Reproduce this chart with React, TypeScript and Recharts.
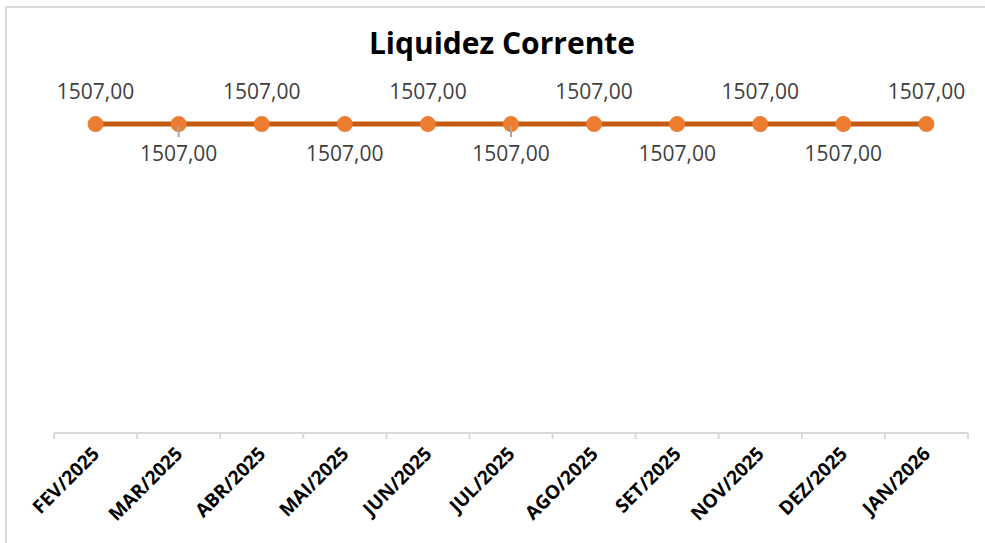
import { LineChart, Line, XAxis, YAxis, LabelList } from "recharts";

const meses = [
  "FEV/2025",
  "MAR/2025",
  "ABR/2025",
  "MAI/2025",
  "JUN/2025",
  "JUL/2025",
  "AGO/2025",
  "SET/2025",
  "NOV/2025",
  "DEZ/2025",
  "JAN/2026",
];
const liquidez = [1507, 1507, 1507, 1507, 1507, 1507, 1507, 1507, 1507, 1507, 1507];
// labels that Excel drew with a leader line
const leaderIdx = [1, 5];

const data = meses.map((mes, i) => ({ mes, valor: liquidez[i] }));

const W = 985;
const H = 543;
const M = { top: 105, right: 17, left: 54, bottom: 0 };
const BAND = (W - M.left - M.right) / meses.length;

const fmt = (v: number) => v.toFixed(2).replace(".", ",");

// eslint-disable-next-line @typescript-eslint/no-explicit-any
function MesTick({ x, y, payload, index }: any) {
  const half = BAND / 2;
  const tx = x + 5;
  const ty = y + 22;
  return (
    <g>
      <line x1={x - half} x2={x - half} y1={y} y2={y + 6} stroke="#d9d9d9" strokeWidth={2} />
      {index === meses.length - 1 && (
        <line x1={x + half} x2={x + half} y1={y} y2={y + 6} stroke="#d9d9d9" strokeWidth={2} />
      )}
      <text
        x={tx}
        y={ty}
        transform={`rotate(-45 ${tx} ${ty})`}
        textAnchor="end"
        fontFamily="'Open Sans', sans-serif"
        fontWeight={700}
        fontSize={19}
        fill="#000"
      >
        {payload.value}
      </text>
    </g>
  );
}

// eslint-disable-next-line @typescript-eslint/no-explicit-any
function ValorLabel({ x, y, value, index }: any) {
  const acima = index % 2 === 0;
  return (
    <g>
      {leaderIdx.includes(index) && (
        <line x1={x} x2={x} y1={y + 2} y2={y + 13} stroke="#a6a6a6" strokeWidth={2} />
      )}
      <text
        x={x}
        y={acima ? y - 25 : y + 37}
        textAnchor="middle"
        fontFamily="'Open Sans', sans-serif"
        fontSize={21}
        fill="#404040"
      >
        {fmt(value)}
      </text>
    </g>
  );
}

export default function App() {
  return (
    <div style={{ position: "absolute", left: 0, top: 0, width: W, height: H, background: "#fff" }}>
      <div
        style={{
          position: "absolute",
          left: 5,
          top: 6,
          right: 0,
          bottom: 0,
          borderTop: "2px solid #d9d9d9",
          borderLeft: "2px solid #d9d9d9",
        }}
      />
      <div
        style={{
          position: "absolute",
          left: 0,
          width: 1004,
          top: 22,
          textAlign: "center",
          fontFamily: "'Open Sans', sans-serif",
          fontWeight: 700,
          fontSize: 30,
          color: "#000",
        }}
      >
        Liquidez Corrente
      </div>
      <div style={{ position: "absolute", left: 0, top: 0 }}>
        <LineChart width={W} height={H} data={data} margin={M}>
          <XAxis
            dataKey="mes"
            height={110}
            padding={{ left: BAND / 2, right: BAND / 2 }}
            axisLine={{ stroke: "#d9d9d9", strokeWidth: 2 }}
            tickLine={false}
            tickSize={0}
            tickMargin={0}
            interval={0}
            tick={<MesTick />}
          />
          <YAxis hide domain={[0, 1600]} />
          <Line
            dataKey="valor"
            stroke="#c55a11"
            strokeWidth={5}
            dot={{ r: 8, fill: "#ed7d31", stroke: "none" }}
            activeDot={false}
            isAnimationActive={false}
          >
            <LabelList dataKey="valor" content={<ValorLabel />} />
          </Line>
        </LineChart>
      </div>
    </div>
  );
}
